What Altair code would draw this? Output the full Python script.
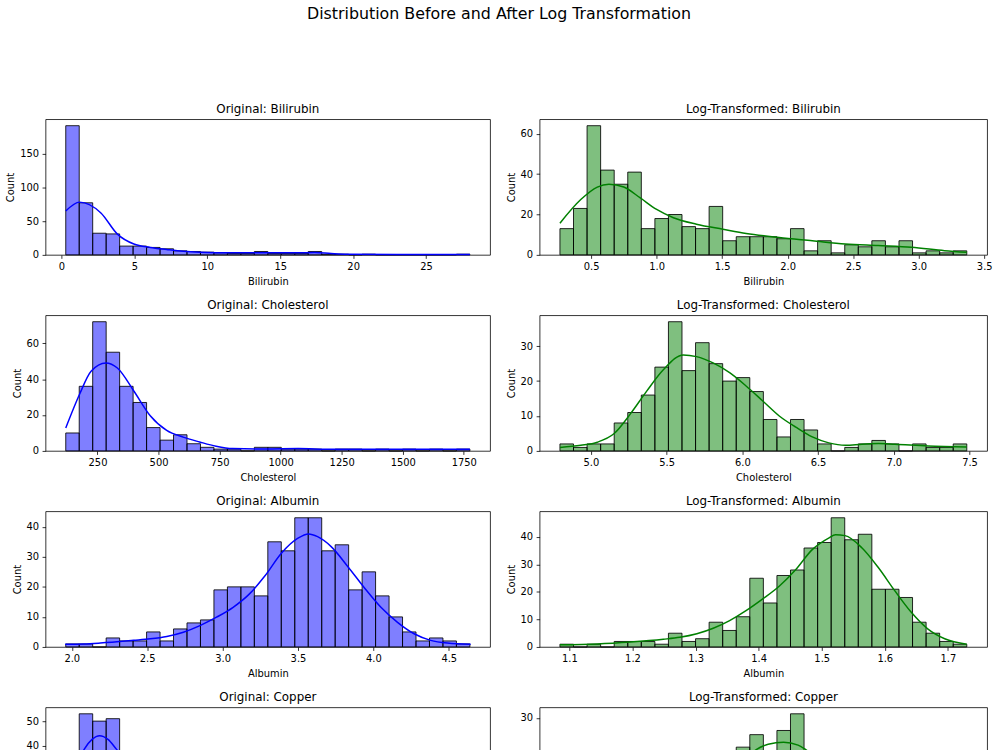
import altair as alt
import pandas as pd

# ---------------- data ----------------
# Each histogram: data range (min, max) and 30 bin counts; KDE curve points (x, count-scaled y)

BILI_RANGE = (0.3, 28.0)
BILI_COUNTS = [191, 77, 32, 31, 13, 13, 11, 9, 6, 5, 4, 3, 2, 2, 5, 2, 2, 2, 5, 1,
               1, 0, 1, 0, 0, 0, 0, 0, 0, 1]
BILI_KDE_X = [0.3, 1.25, 2.71, 3.84, 4.97, 6.09, 7.22, 8.35, 9.47, 11.73, 13.98,
              16.24, 17.36, 18.49, 19.62, 23.0, 28.0]
BILI_KDE_Y = [64.8, 78, 62, 30.7, 16, 11, 8, 5.4, 4, 3, 3, 3, 3.4, 2, 1, 0.5, 0.4]

LBILI_RANGE = (0.262, 3.367)
LBILI_COUNTS = [13, 23, 64, 42, 35, 41, 13, 18, 20, 14, 13, 24, 7, 9, 9, 9, 8, 13, 2, 7,
                1, 5, 4, 7, 4, 7, 1, 2, 1, 2]
LBILI_KDE_X = [0.262, 0.421, 0.547, 0.636, 0.749, 0.875, 1.0, 1.128, 1.304, 1.506,
               1.683, 1.935, 2.188, 2.44, 2.69, 2.945, 3.197, 3.367]
LBILI_KDE_Y = [15.7, 27.4, 33.6, 35.0, 33.6, 28.2, 22.5, 18.4, 15.2, 12.7, 10.6, 8.6,
               7.0, 5.4, 4.6, 3.75, 2.1, 1.3]

CHOL_RANGE = (120, 1775)
CHOL_COUNTS = [10, 36, 72, 55, 36, 27, 13, 6, 9, 4, 2, 1, 1, 0, 2, 2, 1, 1, 1, 0,
               1, 1, 0, 1, 0, 1, 0, 1, 0, 1]
CHOL_KDE_X = [120, 176.6, 223.7, 284.3, 331.4, 398.7, 466, 533.4, 600.7, 668, 735.4,
              802.7, 937.4, 1072, 1206.7, 1476, 1775]
CHOL_KDE_Y = [12.8, 31.6, 44.4, 49, 46.2, 33.4, 19.6, 11.4, 7.7, 5, 2.6, 1.3, 1.1,
              1.3, 0.9, 0.9, 0.9]

LCHOL_RANGE = (4.796, 7.482)
LCHOL_COUNTS = [2, 1, 2, 2, 8, 11, 16, 24, 37, 23, 31, 25, 20, 21, 17, 9, 4, 9, 6, 2,
                0, 1, 2, 3, 2, 0, 2, 1, 1, 2]
LCHOL_KDE_X = [4.796, 4.934, 5.043, 5.152, 5.261, 5.37, 5.48, 5.61, 5.698, 5.807,
               5.916, 6.025, 6.135, 6.244, 6.353, 6.462, 6.571, 6.68, 6.79, 6.9,
               7.008, 7.226, 7.482]
LCHOL_KDE_Y = [1.0, 1.6, 2.5, 4.9, 10.6, 17.2, 23.3, 27.5, 27.0, 25.2, 22.4, 18.6,
               14.3, 10.0, 6.8, 4.0, 2.3, 1.6, 1.9, 2.1, 1.9, 1.4, 1.1]

ALB_RANGE = (1.96, 4.64)
ALB_COUNTS = [1, 1, 0, 3, 2, 2, 5, 2, 6, 8, 9, 19, 20, 20, 17, 35, 32, 43, 43, 32,
              34, 19, 25, 17, 10, 5, 2, 3, 2, 1]
ALB_KDE_X = [1.956, 2.081, 2.19, 2.41, 2.52, 2.63, 2.74, 2.85, 2.96, 3.07, 3.175,
             3.28, 3.39, 3.50, 3.57, 3.63, 3.72, 3.83, 3.94, 4.05, 4.16, 4.27, 4.38,
             4.49, 4.645]
ALB_KDE_Y = [0.9, 1.0, 1.3, 2.2, 2.7, 3.5, 4.9, 7.1, 9.9, 13.2, 17.5, 23.6, 31.2,
             36.2, 37.6, 36.7, 33.4, 26.8, 19.7, 13.2, 8.2, 4.4, 2.2, 1.3, 0.9]

LALB_RANGE = (1.085, 1.730)
LALB_COUNTS = [1, 0, 1, 0, 2, 2, 2, 1, 5, 2, 3, 9, 6, 11, 25, 16, 26, 28, 36, 38,
               47, 39, 41, 21, 21, 18, 9, 5, 2, 1]
LALB_KDE_X = [1.085, 1.144, 1.197, 1.249, 1.275, 1.302, 1.328, 1.354, 1.380, 1.406,
              1.433, 1.459, 1.485, 1.511, 1.522, 1.537, 1.564, 1.59, 1.616, 1.642,
              1.668, 1.695, 1.73]
LALB_KDE_Y = [0.8, 1.1, 1.8, 2.8, 3.5, 4.8, 6.8, 9.6, 13.2, 17.4, 22.2, 28.2, 35.4,
              39.6, 40.8, 40.5, 36.0, 28.8, 20.4, 12.6, 6.6, 3.0, 1.0]

COP_RANGE = (4, 588)
COP_COUNTS = [18, 53, 50, 51, 35, 24, 20, 13, 11, 8, 6, 4, 3, 3, 2, 2, 1, 1, 1, 0,
              1, 1, 0, 0, 1, 0, 0, 0, 0, 1]
COP_KDE_X = [4, 15, 30.6, 42, 53, 65, 77.5, 100, 130, 160, 200, 250, 300, 400, 500, 588]
COP_KDE_Y = [20, 28, 38.4, 42.5, 44, 42.5, 38.4, 30, 20, 13, 7, 4, 2.5, 1.2, 0.8, 0.5]

LCOP_RANGE = (1.609, 6.378)
LCOP_COUNTS = [0, 1, 0, 1, 1, 1, 2, 3, 4, 5, 9, 12, 16, 23, 26, 18, 27, 31, 21, 21,
               20, 18, 16, 13, 10, 8, 5, 3, 2, 1]
LCOP_KDE_X = [1.609, 2.0, 2.5, 3.0, 3.3, 3.6, 3.91, 4.05, 4.23, 4.4, 4.49, 4.8, 5.1,
              5.4, 5.7, 6.0, 6.378]
LCOP_KDE_Y = [0.3, 0.8, 2, 6, 10, 16, 22.4, 23.7, 24.2, 23.5, 22.4, 17, 11, 6, 3, 1.5, 0.8]

# tick labels
BILI_XT = [0, 5, 10, 15, 20, 25]
LBILI_XT = [0.5, 1.0, 1.5, 2.0, 2.5, 3.0, 3.5]
CHOL_XT = [250, 500, 750, 1000, 1250, 1500, 1750]
LCHOL_XT = [5.0, 5.5, 6.0, 6.5, 7.0, 7.5]
ALB_XT = [2.0, 2.5, 3.0, 3.5, 4.0, 4.5]
LALB_XT = [1.1, 1.2, 1.3, 1.4, 1.5, 1.6, 1.7]
COP_XT = [0, 100, 200, 300, 400, 500, 600]
LCOP_XT = [2, 3, 4, 5, 6]

BILI_YT = [0, 50, 100, 150]
LBILI_YT = [0, 20, 40, 60]
CHOL_YT = [0, 20, 40, 60]
LCHOL_YT = [0, 10, 20, 30]
ALB_YT = [0, 10, 20, 30, 40]
LALB_YT = [0, 10, 20, 30, 40]
COP_YT = [0, 10, 20, 30, 40, 50]
LCOP_YT = [0, 10, 20, 30]

FONT = "DejaVu Sans"
PLOT_H = 137


def panel(title, xlabel, rng, counts, kx, ky, color, xt, yt, xfmt, width):
    lo, hi = rng
    n = len(counts)
    w = (hi - lo) / n
    bars_df = pd.DataFrame({
        "x0": [lo + i * w for i in range(n)],
        "x1": [lo + (i + 1) * w for i in range(n)],
        "count": counts,
    })
    kde_df = pd.DataFrame({"x0": kx, "count": ky})
    pad = 0.05 * (hi - lo)
    xs = alt.Scale(domain=[lo - pad, hi + pad], nice=False, zero=False)
    ys = alt.Scale(domain=[0, max(max(counts), max(ky)) * 1.05], nice=False)
    xaxis = alt.Axis(title=xlabel, values=xt, format=xfmt)
    yaxis = alt.Axis(title="Count", values=yt, format="d")
    bars = alt.Chart(bars_df).mark_rect(
        fill=color, fillOpacity=0.5, stroke="black", strokeWidth=1, strokeOpacity=0.85
    ).encode(
        x=alt.X("x0:Q", scale=xs, axis=xaxis),
        x2="x1:Q",
        y=alt.Y("count:Q", scale=ys, axis=yaxis),
        y2=alt.datum(0),
    )
    line = alt.Chart(kde_df).mark_line(
        color=color, strokeWidth=1.5, interpolate="monotone"
    ).encode(
        x=alt.X("x0:Q", scale=xs, axis=xaxis),
        y=alt.Y("count:Q", scale=ys, axis=yaxis),
    )
    return alt.layer(bars, line).properties(
        width=width, height=PLOT_H,
        title=alt.TitleParams(title, fontSize=12, fontWeight="normal", font=FONT,
                              color="black", anchor="middle", baseline="alphabetic",
                              offset=-6),
    )


LW, RW = 449, 452
panels = [
    panel("Original: Bilirubin", "Bilirubin", BILI_RANGE, BILI_COUNTS, BILI_KDE_X, BILI_KDE_Y,
          "blue", BILI_XT, BILI_YT, "d", LW),
    panel("Log-Transformed: Bilirubin", "Bilirubin", LBILI_RANGE, LBILI_COUNTS, LBILI_KDE_X,
          LBILI_KDE_Y, "green", LBILI_XT, LBILI_YT, ".1f", RW),
    panel("Original: Cholesterol", "Cholesterol", CHOL_RANGE, CHOL_COUNTS, CHOL_KDE_X, CHOL_KDE_Y,
          "blue", CHOL_XT, CHOL_YT, "d", LW),
    panel("Log-Transformed: Cholesterol", "Cholesterol", LCHOL_RANGE, LCHOL_COUNTS, LCHOL_KDE_X,
          LCHOL_KDE_Y, "green", LCHOL_XT, LCHOL_YT, ".1f", RW),
    panel("Original: Albumin", "Albumin", ALB_RANGE, ALB_COUNTS, ALB_KDE_X, ALB_KDE_Y,
          "blue", ALB_XT, ALB_YT, ".1f", LW),
    panel("Log-Transformed: Albumin", "Albumin", LALB_RANGE, LALB_COUNTS, LALB_KDE_X,
          LALB_KDE_Y, "green", LALB_XT, LALB_YT, ".1f", RW),
    panel("Original: Copper", "Copper", COP_RANGE, COP_COUNTS, COP_KDE_X, COP_KDE_Y,
          "blue", COP_XT, COP_YT, "d", LW),
    panel("Log-Transformed: Copper", "Copper", LCOP_RANGE, LCOP_COUNTS, LCOP_KDE_X,
          LCOP_KDE_Y, "green", LCOP_XT, LCOP_YT, "d", RW),
]

chart = alt.concat(
    *panels, columns=2, spacing={"row": 11, "column": 14}
).properties(
    title=alt.TitleParams("Distribution Before and After Log Transformation", fontSize=16,
                          fontWeight="normal", font=FONT, color="black", anchor="middle",
                          baseline="top", offset=82),
    padding={"left": 5, "top": 1, "right": 7, "bottom": 5},
    background="white",
).configure_view(
    stroke="black", strokeWidth=0.8
).configure_axis(
    grid=False, domain=False,
    labelFont=FONT, labelFontSize=10, labelColor="black",
    titleFont=FONT, titleFontSize=10, titleFontWeight="normal", titleColor="black",
    tickColor="black", tickSize=3.5, tickWidth=0.8, labelPadding=3.5,
    labelFlush=False, labelOverlap=False,
).configure_axisX(
    titlePadding=5
).configure_axisY(
    titlePadding=4
)

chart.save("out.html", embed_options={"renderer": "svg", "actions": False})
